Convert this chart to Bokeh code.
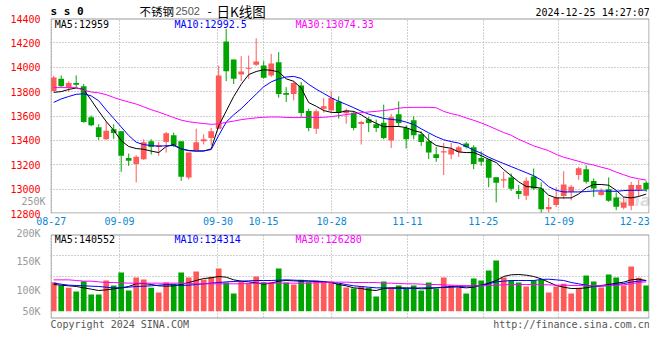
from bokeh.plotting import figure
from bokeh.models import (ColumnDataSource, FixedTicker, Label, Range1d, LinearAxis,
                          BoxAnnotation)
from bokeh.layouts import column
from bokeh.embed import file_html
from bokeh.resources import INLINE

# ---------------- data ----------------
tick_days = [0, 9, 22, 28, 37, 47, 57, 67, 77]
tick_labels = ["08-27", "09-09", "09-30", "10-15", "10-28", "11-11", "11-25", "12-09", "12-23"]

opens = [13805, 13905, 13837, 13870, 13845, 13589, 13507, 13409, 13491, 13475,
         13256, 13207, 13246, 13393, 13346, 13387, 13442, 13393, 13096, 13319,
         13393, 13420, 13496, 14211, 14064, 13941, 13987, 14020, 14015, 13933,
         14042, 13788, 13780, 13851, 13641, 13496, 13660, 13646, 13720, 13622,
         13627, 13535, 13573, 13532, 13545, 13398, 13614, 13502, 13565, 13450,
         13393, 13286, 13300, 13284, 13305, 13374, 13344, 13256, 13245, 13098,
         13071, 13096, 12984, 12946, 13104, 13006, 12834, 12869, 12943, 12978,
         13115, 13164, 13066, 12951, 13000, 12932, 12847, 12864, 12995, 13052]
highs = [13930, 13933, 13884, 13933, 13862, 13605, 13532, 13556, 13532, 13478,
         13292, 13278, 13409, 13409, 13385, 13469, 13464, 13393, 13300, 13496,
         13450, 13502, 14015, 14315, 14064, 14091, 14096, 14238, 14050, 14110,
         14124, 13837, 13884, 13878, 13660, 13655, 13747, 13802, 13761, 13660,
         13641, 13560, 13592, 13570, 13693, 13616, 13720, 13524, 13597, 13475,
         13455, 13346, 13379, 13379, 13355, 13387, 13360, 13311, 13245, 13098,
         13142, 13128, 13033, 13096, 13169, 13055, 12929, 13016, 13147, 13033,
         13183, 13196, 13087, 13006, 13096, 12973, 12937, 13060, 13076, 13066]
lows = [13800, 13837, 13796, 13837, 13545, 13516, 13404, 13404, 13412, 13142,
        13191, 13055, 13240, 13284, 13273, 13300, 13346, 13068, 13079, 13319,
        13366, 13360, 13491, 13886, 13862, 13886, 13905, 14009, 13905, 13919,
        13750, 13715, 13728, 13592, 13475, 13453, 13627, 13627, 13578, 13537,
        13483, 13366, 13469, 13469, 13409, 13338, 13510, 13333, 13409, 13355,
        13246, 13224, 13115, 13246, 13265, 13333, 13164, 13191, 13016, 12891,
        13011, 12986, 12918, 12910, 12992, 12805, 12810, 12853, 12918, 12907,
        13076, 13046, 12937, 12946, 12896, 12827, 12834, 12827, 12937, 12978]
closes = [13915, 13845, 13870, 13856, 13551, 13524, 13428, 13480, 13461, 13273,
          13232, 13265, 13385, 13346, 13363, 13458, 13363, 13101, 13300, 13385,
          13409, 13475, 13933, 13968, 13905, 13965, 13995, 14047, 13914, 14031,
          13780, 13775, 13870, 13625, 13502, 13638, 13679, 13747, 13627, 13646,
          13502, 13551, 13543, 13502, 13420, 13589, 13543, 13409, 13442, 13387,
          13300, 13256, 13311, 13327, 13344, 13346, 13207, 13224, 13093, 13052,
          13082, 13003, 12959, 13068, 13006, 12834, 12853, 12929, 13038, 13019,
          13172, 13060, 13006, 12978, 12905, 12856, 12891, 13033, 13033, 13000]

ma5 = [13794, 13800, 13818, 13830, 13818, 13730, 13640, 13555, 13483, 13398,
       13350, 13333, 13327, 13312, 13300, 13350, 13365, 13330, 13318, 13313,
       13313, 13330, 13520, 13640, 13760, 13860, 13940, 13965, 13980, 13975,
       13962, 13905, 13885, 13830, 13710, 13680, 13645, 13630, 13628, 13642,
       13638, 13610, 13570, 13540, 13512, 13514, 13514, 13505, 13480, 13465,
       13400, 13358, 13345, 13335, 13305, 13300, 13300, 13275, 13245, 13218,
       13160, 13110, 13060, 13022, 13016, 13008, 12950, 12928, 12928, 12928,
       12960, 13010, 13038, 13038, 13032, 12990, 12935, 12928, 12940, 12959]
ma10 = [13712, 13740, 13760, 13778, 13782, 13765, 13725, 13650, 13580, 13510,
        13440, 13385, 13365, 13358, 13352, 13356, 13358, 13330, 13315, 13312,
        13313, 13325, 13440, 13550, 13610, 13660, 13720, 13780, 13840, 13880,
        13905, 13920, 13925, 13908, 13860, 13820, 13785, 13750, 13720, 13695,
        13668, 13640, 13615, 13598, 13580, 13572, 13566, 13550, 13530, 13495,
        13462, 13430, 13405, 13390, 13378, 13350, 13320, 13295, 13262, 13235,
        13210, 13185, 13160, 13135, 13110, 13075, 13020, 12990, 12977, 12977,
        12977, 12980, 12985, 12985, 12983, 12982, 12988, 12991, 12990, 12992.5]
ma30 = [13833, 13833, 13833, 13833, 13812, 13797, 13790, 13775, 13752, 13732,
        13715, 13698, 13675, 13652, 13632, 13610, 13587, 13566, 13553, 13545,
        13538, 13532, 13535, 13548, 13558, 13570, 13578, 13585, 13590, 13592,
        13592, 13588, 13587, 13587, 13588, 13588, 13589, 13595, 13603, 13611,
        13620, 13627, 13633, 13638, 13645, 13652, 13664, 13670, 13671, 13671,
        13671, 13668, 13638, 13619, 13606, 13584, 13565, 13543, 13518, 13491,
        13464, 13442, 13409, 13382, 13355, 13335, 13315, 13285, 13262, 13245,
        13228, 13210, 13198, 13180, 13165, 13140, 13118, 13097, 13085, 13074]

# volume, thousands of lots
vol_k = [114.5, 109.0, 105.1, 98.8, 116.2, 93.8, 93.8, 117.4, 109.0, 130.9,
         100.5, 122.5, 119.1, 105.1, 97.1, 114.0, 111.8, 130.9, 122.5, 132.6,
         119.1, 123.6, 137.7, 114.0, 95.4, 115.2, 112.3, 124.2, 114.5, 114.5,
         137.7, 114.0, 110.6, 118.6, 114.5, 117.4, 115.7, 115.7, 111.8, 105.6,
         103.9, 107.3, 105.1, 90.4, 115.7, 105.1, 109.0, 103.4, 109.0, 100.5,
         114.0, 103.4, 122.5, 109.0, 105.1, 95.4, 120.8, 117.4, 134.3, 151.2,
         122.5, 117.4, 114.0, 107.3, 117.4, 118.6, 97.1, 107.3, 111.8, 95.4,
         105.1, 125.8, 115.7, 105.6, 127.5, 122.5, 109.0, 141.0, 122.0, 109.0]
vma5 = [110.6, 109.5, 108.4, 107.3, 105.0, 102.8, 100.5, 101.6, 103.3, 105.0,
        107.3, 111.8, 112.3, 110.6, 108.4, 107.8, 108.4, 110.6, 114.0, 117.4,
        120.8, 121.9, 124.2, 123.0, 118.5, 116.3, 115.1, 113.5, 111.2, 112.9,
        116.3, 117.4, 116.8, 116.3, 116.3, 115.7, 114.6, 114.0, 110.6, 108.4,
        105.0, 103.9, 101.6, 100.5, 103.9, 105.0, 105.0, 105.0, 104.4, 103.3,
        103.9, 105.0, 106.1, 107.3, 106.1, 105.0, 106.1, 109.5, 112.9, 117.4,
        124.2, 127.0, 127.5, 126.4, 124.2, 120.2, 114.6, 109.0, 106.1, 103.9,
        103.9, 105.0, 107.3, 109.0, 110.6, 112.9, 114.6, 118.5, 119.6, 117.4]
vma10 = [112.9, 111.2, 109.5, 109.0, 108.4, 107.8, 107.3, 106.1, 105.0, 105.0,
         106.1, 107.3, 107.8, 108.4, 109.5, 110.6, 110.1, 109.0, 109.5, 110.6,
         111.8, 112.9, 114.0, 115.1, 115.7, 116.3, 116.8, 117.4, 117.4, 117.4,
         118.0, 118.5, 118.0, 117.4, 116.8, 116.3, 115.7, 114.0, 112.9, 110.6,
         108.4, 107.3, 106.1, 105.0, 105.0, 104.4, 103.9, 103.9, 104.4, 105.0,
         105.0, 105.0, 105.6, 106.1, 107.3, 107.8, 108.4, 109.0, 111.8, 115.1,
         116.3, 117.4, 117.4, 117.4, 117.4, 119.1, 119.6, 118.5, 117.4, 114.0,
         111.8, 109.5, 107.3, 107.8, 109.0, 110.6, 112.3, 114.6, 116.3, 117.4]
vma30 = [118.5, 118.5, 118.5, 117.4, 116.3, 116.3, 115.1, 114.0, 114.0, 113.5,
         112.9, 112.9, 112.9, 112.9, 112.9, 112.9, 112.9, 112.9, 112.3, 111.8,
         111.8, 111.8, 111.8, 111.8, 111.8, 111.8, 112.3, 112.9, 112.9, 112.9,
         112.9, 112.9, 112.9, 112.9, 112.9, 113.5, 114.0, 114.6, 114.6, 114.6,
         114.0, 114.0, 114.0, 114.0, 112.9, 112.9, 112.3, 111.8, 111.8, 111.2,
         110.6, 110.6, 110.1, 109.5, 109.0, 108.4, 108.4, 108.4, 109.0, 109.5,
         110.1, 110.6, 110.6, 110.6, 110.6, 110.1, 110.1, 109.5, 109.5, 109.0,
         109.0, 108.4, 108.4, 108.4, 109.0, 109.5, 110.1, 111.8, 114.0, 115.1]
vol_base = 65.5          # where the volume bars start in the picture

price_ticks = [12800, 13000, 13200, 13400, 13600, 13800, 14000, 14200, 14400]
vol_ticks = [vol_base, 100, 150, 200]
vol_tick_labels = ["50K", "100K", "150K", "200K"]
stray_vol_tick = 250      # Sina also prints "250K" beside the price panel

title_code = "不锈钢"
title_month = "2502"
title_kind = "日K线图"
stamp = "2024-12-25 14:27:07"
logo = "s s 0"
hdr_price = ["MA5:12959", "MA10:12992.5", "MA30:13074.33"]
hdr_vol = ["MA5:140552", "MA10:134314", "MA30:126280"]
copyright_txt = "Copyright 2024 SINA.COM"
url_txt = "http://finance.sina.com.cn"

# ---------------- styling ----------------
RED = "#FF5A5A"
GREEN = "#00A400"
GRID = "#A0A0A0"
FRAME = "#999999"
MONO = "DejaVu Sans Mono"
CJK = "Noto Sans CJK SC"
MA_COLORS = ["#000000", "#0000FF", "#FF00FF"]
W = 660

N = len(closes)
xs = list(range(N))
cols = [RED if c >= o else GREEN for o, c in zip(opens, closes)]
src = ColumnDataSource(dict(
    x=xs, o=opens, h=highs, l=lows, c=closes,
    top=[max(o, c) for o, c in zip(opens, closes)],
    bot=[min(o, c) for o, c in zip(opens, closes)],
    col=cols, vol=vol_k,
))

# Sina spreads the date grid over 79 slots, the candles over 80
tick_pos = [round(d * 1.0105 - 0.33, 3) for d in tick_days]
grid_pos = tick_pos[:-1]
X0, X1 = -0.427, 79.44
HALF = 0.5 / 7.5                     # half a pixel in candle units

P_LO, P_HI = 12800, 14400            # price panel limits
P_PER_PX = (P_HI - P_LO) / 195.0     # price panel is 195 px tall


def price_at(y):
    """price at a screen row of the price panel (panel bottom on row 213)"""
    return P_LO + (213 - y) * P_PER_PX


def vol_at(y):
    """volume value (K) at a screen row of the volume scale used by the picture"""
    return 100 + (290.3 - y) * 1.689


def style_common(p):
    p.background_fill_color = "white"
    p.border_fill_color = "white"
    p.outline_line_color = None
    p.xgrid.ticker = FixedTicker(ticks=grid_pos)
    p.xgrid.grid_line_color = GRID
    p.xgrid.grid_line_dash = "1 2"
    p.ygrid.grid_line_color = GRID
    p.ygrid.grid_line_dash = "1 2"
    for ax in p.yaxis:
        ax.axis_line_color = None
        ax.major_tick_line_color = None
        ax.minor_tick_line_color = None
        ax.major_label_standoff = 4
        ax.major_label_text_font = MONO
        ax.major_label_text_font_size = "10px"


def lbl(p, x, y, text, color="#000000", size="10px", font=MONO, align="left",
        style="normal"):
    p.add_layout(Label(x=x, y=y, x_units="screen", y_units="screen", text=text,
                       text_color=color, text_font_size=size, text_font=font,
                       text_align=align, text_baseline="middle",
                       text_font_style=style))


def panel(p, top, bottom):
    """white margin outside [bottom, top] and a grey border round the panel"""
    p.add_layout(BoxAnnotation(bottom=top, fill_color="white", fill_alpha=1.0,
                               line_color=None, level="underlay"))
    p.add_layout(BoxAnnotation(top=bottom, fill_color="white", fill_alpha=1.0,
                               line_color=None, level="underlay"))
    p.add_layout(BoxAnnotation(top=top, bottom=bottom, left=X0 + HALF, right=X1 - HALF,
                               fill_alpha=0.0, line_color=FRAME, line_width=1,
                               line_alpha=1.0))


# ---------------- price panel (frame also holds the header row) ----------------
p1 = figure(width=W, height=227, x_range=Range1d(X0, X1),
            y_range=Range1d(price_at(213), price_at(0)),
            output_backend="svg", toolbar_location=None,
            min_border_left=50, min_border_right=11, min_border_top=0,
            min_border_bottom=14)
style_common(p1)
p1.yaxis.ticker = FixedTicker(ticks=price_ticks)
p1.ygrid.ticker = FixedTicker(ticks=price_ticks)
p1.yaxis.major_label_text_color = "#FF0000"
panel(p1, price_at(18.5), price_at(212.5))

# stray volume label printed beside the price panel (volume scale continued upward)
p1.extra_y_ranges = {"volp": Range1d(vol_at(213), vol_at(0))}
axb = LinearAxis(y_range_name="volp", ticker=FixedTicker(ticks=[stray_vol_tick]),
                 major_label_overrides={stray_vol_tick: "250K"},
                 axis_line_color=None, major_tick_line_color=None,
                 minor_tick_line_color=None, major_label_standoff=-44,
                 major_label_text_font=MONO, major_label_text_font_size="10px",
                 major_label_text_color="#999999")
p1.add_layout(axb, "left")

xa = p1.xaxis[0]
xa.ticker = FixedTicker(ticks=tick_pos)
xa.major_label_overrides = {t: s for t, s in zip(tick_pos, tick_labels)}
xa.axis_line_color = None
xa.major_tick_line_color = None
xa.minor_tick_line_color = None
xa.major_label_standoff = -3
xa.major_label_text_font = MONO
xa.major_label_text_font_size = "10px"
xa.major_label_text_color = "#0A88D2"

p1.add_layout(Label(x=563, y=4, x_units="screen", y_units="screen", text="sina",
                    text_color="#DDDDDD", text_font_size="16px",
                    text_font="DejaVu Sans", text_font_style="bold italic",
                    level="underlay"))

p1.segment(x0="x", y0="l", x1="x", y1="h", line_color="col", line_width=1, source=src)
p1.vbar(x="x", width=0.76, top="top", bottom="bot", fill_color="col",
        line_color=None, source=src)
for ser, colr in zip([ma5, ma10, ma30], MA_COLORS):
    p1.line(xs, ser, line_color=colr, line_width=1)
for txt, colr, x in zip(hdr_price, MA_COLORS, [4.3, 124, 245]):
    lbl(p1, x, 189.3, txt, colr)

# header row (screen units are measured from the frame's lower-left corner)
lbl(p1, 0, 202, logo, size="11px", style="bold")
lbl(p1, 89, 202.5, title_code, size="11.5px", font=CJK)
lbl(p1, 125, 202.5, title_month, color="#555555", size="11px", font="Liberation Sans")
lbl(p1, 157, 202.5, "-", size="12px", font=CJK)
lbl(p1, 166, 202.5, title_kind, size="13.5px", font=CJK)
lbl(p1, 599.3, 201.3, stamp, align="right")

# ---------------- volume panel (frame also holds the gap and the footer) ----------------
p2 = figure(width=W, height=105, x_range=Range1d(X0, X1),
            y_range=Range1d(vol_at(332), vol_at(227)),
            output_backend="svg", toolbar_location=None, x_axis_location=None,
            min_border_left=50, min_border_right=11, min_border_top=0,
            min_border_bottom=0)
style_common(p2)
p2.yaxis.ticker = FixedTicker(ticks=vol_ticks)
p2.yaxis.major_label_overrides = {t: s for t, s in zip(vol_ticks, vol_tick_labels)}
p2.yaxis.major_label_text_color = "#999999"
panel_top, panel_bot = vol_at(234.5), vol_at(317.5)
p2.ygrid.ticker = FixedTicker(ticks=[panel_top + k * (panel_bot - panel_top) / 4
                                     for k in (1, 2, 3)])
panel(p2, panel_top, panel_bot)

p2.vbar(x="x", width=0.76, top="vol", bottom=vol_base, fill_color="col",
        line_color=None, source=src)
for ser, colr in zip([vma5, vma10, vma30], MA_COLORS):
    p2.line(xs, ser, line_color=colr, line_width=1)
for txt, colr, x in zip(hdr_vol, MA_COLORS, [4.3, 124, 245]):
    lbl(p2, x, 93.5, txt, colr)
lbl(p2, 0, 8.5, copyright_txt, color="#555555")
lbl(p2, 599.3, 8.5, url_txt, color="#555555", align="right")

layout = column(p1, p2, spacing=0)
open("out.html", "w").write(file_html(layout, INLINE))
